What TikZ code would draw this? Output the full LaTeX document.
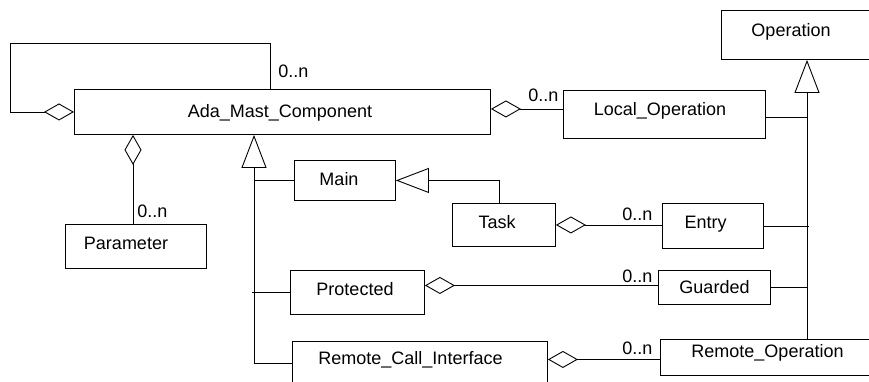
\documentclass[tikz,border=0pt]{standalone}
\usepackage{fontspec}
\setmainfont{Liberation Sans}
\usetikzlibrary{arrows.meta}
\begin{document}
\begin{tikzpicture}[x=1pt,y=-1pt, line width=0.9pt,
  box/.style={draw, rectangle, inner sep=0pt, anchor=north west},
  lbl/.style={anchor=base, inner sep=0pt, font=\fontsize{18}{20}\selectfont},
  mult/.style={anchor=base west, inner sep=0pt, font=\fontsize{18}{20}\selectfont},
  agg/.style={{Diamond[open,length=30pt,width=17pt]}-},
  aggend/.style={-{Diamond[open,length=30pt,width=17pt]}},
  gen/.style={-{Triangle[open,length=33pt,width=25pt]}}]
\useasboundingbox (0,0) rectangle (869,381);
\clip (0,0) rectangle (869,381);
% boxes
\node[box, minimum width=416pt, minimum height=45pt] (ada) at (74,89) {};
\node[box, minimum width=141pt, minimum height=44pt] (param) at (65,224) {};
\node[box, minimum width=101pt, minimum height=40pt] (main) at (294,160) {};
\node[box, minimum width=103pt, minimum height=43pt] (task) at (452,203) {};
\node[box, minimum width=101pt, minimum height=45pt] (entry) at (662,203) {};
\node[box, minimum width=202pt, minimum height=48pt] (local) at (563,90) {};
\node[box, minimum width=160pt, minimum height=49pt] (op) at (721,10) {};
\node[box, minimum width=134pt, minimum height=44pt] (prot) at (290,270) {};
\node[box, minimum width=112pt, minimum height=34pt] (guard) at (658,270) {};
\node[box, minimum width=255pt, minimum height=44pt] (rci) at (292,341) {};
\node[box, minimum width=220pt, minimum height=36pt] (rop) at (660,339) {};
% box texts
\node[lbl] (adat) at (280,117) {Ada\_Mast\_Component};
\node[lbl] (paramt) at (126,249) {Parameter};
\node[lbl] (maint) at (339,185) {Main};
\node[lbl] (taskt) at (497,228) {Task};
\node[lbl] (entryt) at (705.5,228) {Entry};
\node[lbl] (localt) at (660,115) {Local\_Operation};
\node[lbl] (opt) at (791,36) {Operation};
\node[lbl] (prott) at (355,295) {Protected};
\node[lbl] (guardt) at (714.5,293) {Guarded};
\node[lbl] (rcit) at (410.5,364) {Remote\_Call\_Interface};
\node[lbl] (ropt) at (767.5,357) {Remote\_Operation};
% helper coordinates
\coordinate (loop) at (10,43);
\coordinate (loopx) at (270,0);
\coordinate (parx) at (133,0);
\coordinate (genx) at (254,0);
\coordinate (taskx) at (499,0);
\coordinate (opx) at (807,0);
% connectors
\draw[aggend] (ada.north -| loopx) |- (loop) |- (ada.west);
\draw[agg] (ada.south -| parx) -- (param.north -| parx);
\draw[agg] ([yshift=3pt]ada.east) -- ([yshift=3pt]ada.east -| local.west);
\draw[gen] (rci.west) -| (ada.south -| genx);
\draw (main.west) -- (main.west -| genx);
\draw (prot.west) -- ([xshift=-2pt]prot.west -| genx);
\draw[gen] (task.north -| taskx) |- (main.east);
\draw[agg] (task.east) -- (task.east -| entry.west);
\draw[agg] ([yshift=7pt]prot.east) -- ([yshift=7pt]prot.east -| guard.west);
\draw[agg] ([yshift=-2pt]rci.east |- rop.west) -- ([yshift=-2pt]rop.west);
\draw[gen] (rop.north -| opx) -- (op.south -| opx);
\draw ([yshift=-3pt]local.east) -- ([yshift=-3pt]local.east -| opx);
\draw (entry.east) -- ([xshift=2pt]entry.east -| opx);
\draw (guard.east) -- (guard.east -| opx);
% multiplicities
\node[mult] (m1) at (278,77) {0..n};
\node[mult] (m2) at (137,217) {0..n};
\node[mult] (m3) at (528,101) {0..n};
\node[mult] (m4) at (622,220) {0..n};
\node[mult] (m5) at (622,282) {0..n};
\node[mult] (m6) at (622,354) {0..n};
\end{tikzpicture}
\end{document}
